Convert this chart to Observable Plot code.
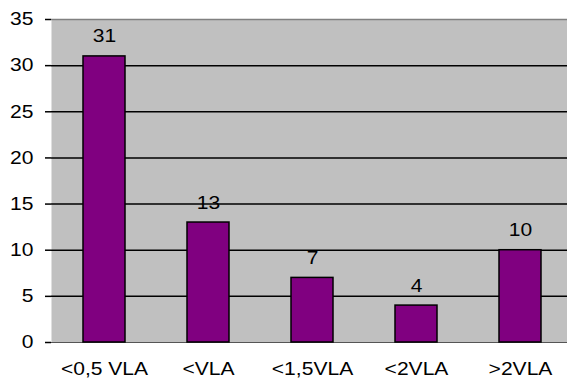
<!DOCTYPE html>
<html>
<head>
<meta charset="utf-8">
<script src="https://cdn.jsdelivr.net/npm/d3@7"></script>
<script src="https://cdn.jsdelivr.net/npm/@observablehq/plot@0.6"></script>
<style>
  html, body { margin: 0; padding: 0; background: #fff; overflow: hidden; }
</style>
</head>
<body>
<div id="chart"></div>
<script>
const categories = ["<0,5 VLA", "<VLA", "<1,5VLA", "<2VLA", ">2VLA"];
const values = [31, 13, 7, 4, 10];
const yTicks = [0, 5, 10, 15, 20, 25, 30, 35];
const gridValues = [5, 10, 15, 20, 25, 30];

const data = categories.map((c, i) => ({category: c, value: values[i]}));

const chart = Plot.plot({
  width: 567,
  height: 379,
  marginLeft: 51,
  marginRight: 0,
  marginTop: 19,
  marginBottom: 37,
  style: {fontFamily: "'Liberation Sans', Arial, sans-serif", fontSize: "18px", color: "#000", background: "#fff"},
  x: {type: "band", domain: categories, range: [52, 572], paddingInner: 0.6, paddingOuter: 0.3},
  y: {domain: [0, 35], range: [342, 19]},
  marks: [
    Plot.frame({fill: "#c0c0c0", stroke: null}),
    Plot.ruleY(gridValues, {stroke: "#000", strokeWidth: 1.5}),
    Plot.ruleY([35], {stroke: "#808080", strokeWidth: 1.5}),
    Plot.ruleY([0], {stroke: "#555", strokeWidth: 1}),
    Plot.barY(data, {x: "category", y: "value", fill: "#800080", stroke: "#000", strokeWidth: 1.5}),
    Plot.text(data, {x: "category", y: "value", text: d => String(d.value), lineAnchor: "bottom", dy: -14, fill: "#000", fontSize: 18}),
    Plot.axisY({ticks: yTicks, tickSize: 6, tickPadding: 12, strokeWidth: 1.5, label: null, fontSize: 18}),
    Plot.ruleX([0], {x: () => 51, stroke: "#000", strokeWidth: 2}),
    Plot.axisX({tickSize: 0, tickPadding: 20, label: null, fontSize: 18})
  ]
});

// Reference font is horizontally stretched: widen each label around its anchor
d3.select(chart).selectAll("text").attr("transform", function () {
  const t = this.getAttribute("transform") || "";
  return t + " scale(1.17,1)";
});

document.getElementById("chart").appendChild(chart);
</script>
</body>
</html>
